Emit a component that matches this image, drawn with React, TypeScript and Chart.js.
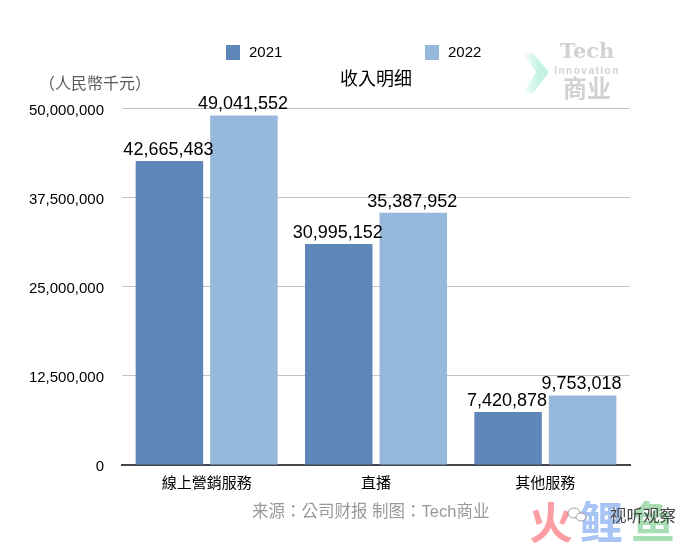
import React, { useEffect, useRef } from "react";
import { Chart, registerables } from "chart.js";

Chart.register(...registerables);

const categories = ["線上營銷服務", "直播", "其他服務"];
const seriesNames = ["2021", "2022"];
const values2021 = [42665483, 30995152, 7420878];
const values2022 = [49041552, 35387952, 9753018];
const seriesColors = ["#5e86b8", "#95b8db"];
const titleText = "收入明细";
const unitText = "（人民幣千元）";
const sourceText = "来源：公司财报 制图：Tech商业";

const CJK = '"Noto Sans CJK TC", "Noto Sans CJK SC", sans-serif';
const LATIN = '"Liberation Sans", Arial, sans-serif';
const MIXED = '"Liberation Sans", "Noto Sans CJK TC", sans-serif';

const text = (
  ctx: CanvasRenderingContext2D,
  s: string,
  x: number,
  y: number,
  font: string,
  color: string,
  align: CanvasTextAlign = "left"
) => {
  ctx.font = font;
  ctx.fillStyle = color;
  ctx.textAlign = align;
  ctx.textBaseline = "middle";
  ctx.fillText(s, x, y);
};

const overlay = {
  id: "overlay",
  afterDatasetsDraw(chart: any) {
    const ctx: CanvasRenderingContext2D = chart.ctx;
    ctx.save();
    // value labels
    chart.data.datasets.forEach((ds: any, di: number) => {
      const meta = chart.getDatasetMeta(di);
      meta.data.forEach((bar: any, i: number) => {
        text(ctx, ds.data[i].toLocaleString("en-US"), bar.x - 1, bar.y - 11, `18px ${LATIN}`, "#000", "center");
      });
    });
    // legend
    const lx = [226, 425];
    chart.data.datasets.forEach((ds: any, di: number) => {
      ctx.fillStyle = ds.backgroundColor;
      ctx.fillRect(lx[di], 45, 14, 15);
      text(ctx, ds.label, lx[di] + 23, 53, `15px ${LATIN}`, "#000");
    });
    // unit
    text(ctx, unitText, 39, 83, `16px ${CJK}`, "#5c5c5c");
    // source
    text(ctx, sourceText, 252, 512, `16.5px ${MIXED}`, "#999");
    // top-right watermark
    const g = ctx.createLinearGradient(523, 0, 550, 0);
    g.addColorStop(0, "rgba(190,240,225,0.1)");
    g.addColorStop(0.6, "rgba(190,240,225,0.9)");
    g.addColorStop(1, "rgba(190,240,225,0.9)");
    ctx.fillStyle = g;
    ctx.beginPath();
    ctx.moveTo(523, 53);
    ctx.lineTo(533, 53);
    ctx.lineTo(549, 72);
    ctx.lineTo(533, 93);
    ctx.lineTo(523, 93);
    ctx.lineTo(536, 72);
    ctx.closePath();
    ctx.fill();
    text(ctx, "Tech", 587, 53, `bold 21px "DejaVu Serif", serif`, "#d2d2d6", "center");
    (ctx as any).letterSpacing = "1.5px";
    text(ctx, "Innovation", 587, 71, `bold 10px ${LATIN}`, "#d2d2d6", "center");
    (ctx as any).letterSpacing = "0px";
    text(ctx, "商业", 587, 88, `bold 24px ${CJK}`, "#d2d2d6", "center");
    // bottom-right watermark
    text(ctx, "火", 551, 522, `bold 44px ${CJK}`, "#fb9da3", "center");
    text(ctx, "鲤", 601, 522, `bold 44px ${CJK}`, "#a7c4f5", "center");
    text(ctx, "鱼", 653, 522, `bold 44px ${CJK}`, "#a8deb4", "center");
    ctx.strokeStyle = "#777";
    ctx.lineWidth = 0.7;
    ctx.fillStyle = "#fff";
    ctx.beginPath();
    ctx.ellipse(574, 513, 6, 5, 0, 0, Math.PI * 2);
    ctx.fill();
    ctx.stroke();
    ctx.beginPath();
    ctx.ellipse(581, 517, 5, 4, 0, 0, Math.PI * 2);
    ctx.fill();
    ctx.stroke();
    text(ctx, "视听观察", 610, 516, `16.5px ${CJK}`, "#444");
    ctx.restore();
  },
};

export default function App() {
  const ref = useRef<HTMLCanvasElement>(null);
  useEffect(() => {
    document.body.style.margin = "0";
    document.body.style.background = "#fff";
    const chart = new Chart(ref.current!, {
      type: "bar",
      data: {
        labels: categories,
        datasets: [
          { label: seriesNames[0], data: values2021, backgroundColor: seriesColors[0] },
          { label: seriesNames[1], data: values2022, backgroundColor: seriesColors[1] },
        ],
      },
      options: {
        animation: false,
        responsive: false,
        devicePixelRatio: 1,
        layout: { padding: { top: 67, left: 0, right: 68, bottom: 43 } },
        datasets: { bar: { categoryPercentage: 0.88, barPercentage: 0.906 } },
        plugins: {
          legend: { display: false },
          tooltip: { enabled: false },
          title: {
            display: true,
            text: titleText,
            fullSize: false,
            color: "#000",
            font: { family: CJK, size: 18, weight: "normal" },
            padding: { top: 0, bottom: 20 },
          },
        },
        scales: {
          x: {
            grid: { display: false, drawTicks: false },
            border: { color: "#44474d", width: 2 },
            afterFit: (s: any) => { s.height = 40; },
            ticks: { color: "#000", font: { family: CJK, size: 15 }, padding: 8, maxRotation: 0 },
          },
          y: {
            min: 0,
            max: 50000000,
            afterFit: (s: any) => { s.width = 122; },
            grid: { color: "#c4c4c4", lineWidth: 1, drawTicks: false },
            border: { display: false },
            ticks: {
              stepSize: 12500000,
              color: "#000",
              padding: 18,
              labelOffset: 2,
              font: { family: LATIN, size: 15 },
              callback: (v: any) => Number(v).toLocaleString("en-US"),
            },
          },
        },
      },
      plugins: [overlay],
    } as any);
    return () => chart.destroy();
  }, []);
  return <canvas ref={ref} width={698} height={548} style={{ display: "block", width: 698, height: 548 }} />;
}
